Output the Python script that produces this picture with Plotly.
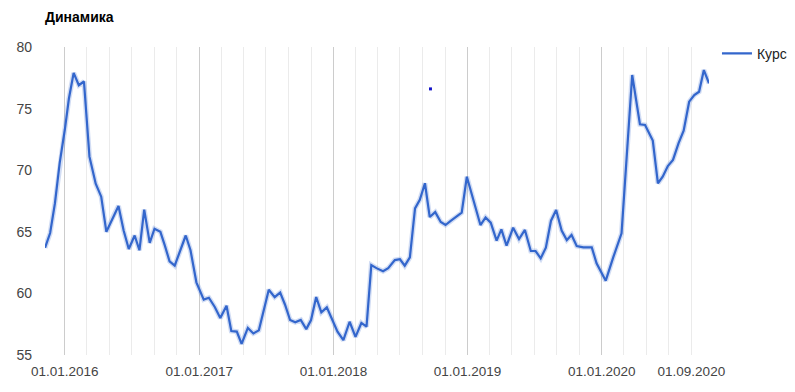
import plotly.graph_objects as go

dates = [
    "2015-11-08", "2015-11-22", "2015-12-05", "2015-12-18", "2016-01-01", "2016-01-12",
    "2016-01-25", "2016-02-08", "2016-02-22", "2016-03-08", "2016-03-25", "2016-04-09",
    "2016-04-23", "2016-05-11", "2016-05-26", "2016-06-09", "2016-06-23", "2016-07-09",
    "2016-07-22", "2016-08-04", "2016-08-19", "2016-09-01", "2016-09-17", "2016-09-29",
    "2016-10-12", "2016-10-26", "2016-11-10", "2016-11-25", "2016-12-08", "2016-12-24",
    "2017-01-13", "2017-01-27", "2017-02-12", "2017-02-27", "2017-03-16", "2017-03-29",
    "2017-04-13", "2017-04-26", "2017-05-13", "2017-05-28", "2017-06-12", "2017-07-09",
    "2017-07-25", "2017-08-09", "2017-08-22", "2017-09-05", "2017-09-19", "2017-10-04",
    "2017-10-19", "2017-11-01", "2017-11-15", "2017-11-29", "2017-12-14", "2017-12-29",
    "2018-01-12", "2018-01-28", "2018-02-14", "2018-03-02", "2018-03-18", "2018-04-01",
    "2018-04-14", "2018-04-28", "2018-05-16", "2018-05-30", "2018-06-17", "2018-07-01",
    "2018-07-14", "2018-07-28", "2018-08-11", "2018-08-24", "2018-09-07", "2018-09-20",
    "2018-10-05", "2018-10-20", "2018-11-02", "2018-11-16", "2018-12-02", "2018-12-16",
    "2018-12-30", "2019-01-25", "2019-02-05", "2019-02-19", "2019-03-05", "2019-03-21",
    "2019-04-03", "2019-04-17", "2019-05-05", "2019-05-21", "2019-06-06", "2019-06-22",
    "2019-07-05", "2019-07-19", "2019-08-02", "2019-08-16", "2019-08-30", "2019-09-14",
    "2019-09-28", "2019-10-11", "2019-10-25", "2019-11-12", "2019-12-05", "2019-12-18",
    "2020-01-12", "2020-02-02", "2020-02-24", "2020-03-24", "2020-04-14", "2020-04-28",
    "2020-05-19", "2020-06-02", "2020-06-15", "2020-06-29", "2020-07-13", "2020-07-28",
    "2020-08-11", "2020-08-26", "2020-09-09", "2020-09-22", "2020-10-05", "2020-10-19",
]
rate = [
    63.7, 64.9, 67.3, 70.6, 73.3, 75.8,
    77.9, 76.9, 77.2, 71.1, 68.9, 67.85,
    65.0, 66.2, 67.1, 65.1, 63.6, 64.7,
    63.5, 66.8, 64.1, 65.25, 65.0, 63.9,
    62.6, 62.25, 63.4, 64.7, 63.5, 60.9,
    59.5, 59.65, 58.9, 58.0, 59.0, 56.95,
    56.9, 55.9, 57.2, 56.75, 57.0, 60.3,
    59.7, 60.07, 59.1, 57.84, 57.65, 57.84,
    57.1, 57.84, 59.7, 58.47, 58.87, 57.8,
    56.9, 56.2, 57.7, 56.47, 57.6, 57.3,
    62.3, 62.05, 61.8, 62.04, 62.7, 62.77,
    62.25, 62.93, 66.9, 67.6, 68.94, 66.2,
    66.6, 65.8, 65.55, 65.88, 66.2, 66.55,
    69.47, 66.55, 65.55, 66.17, 65.74, 64.28,
    65.2, 63.87, 65.33, 64.41, 65.15, 63.44,
    63.44, 62.85, 63.71, 65.9, 66.77, 65.1,
    64.33, 64.74, 63.85, 63.74, 63.74, 62.44,
    61.03, 62.98, 64.88, 77.73, 73.73, 73.67,
    72.4, 68.94, 69.47, 70.34, 70.83, 72.18,
    73.2, 75.56, 76.1, 76.37, 78.13, 77.05,
]

stray_date = ["2018-09-22"]
stray_value = [76.6]

tick_dates = ["2016-01-01", "2017-01-01", "2018-01-01", "2019-01-01", "2020-01-01", "2020-09-01"]
tick_labels = ["01.01.2016", "01.01.2017", "01.01.2018", "01.01.2019", "01.01.2020", "01.09.2020"]

title_text = "Динамика"
series_name = "Курс"

FONT = "Arial, 'Liberation Sans', sans-serif"
LINE = "#3366cc"

fig = go.Figure()
fig.add_trace(go.Scatter(
    x=dates, y=rate, mode="lines", showlegend=False, hoverinfo="skip",
    line=dict(color="rgba(51,102,204,0.22)", width=5),
))
fig.add_trace(go.Scatter(
    x=dates, y=rate, mode="lines", name=series_name,
    line=dict(color=LINE, width=2.2),
))
fig.add_trace(go.Scatter(
    x=stray_date, y=stray_value, mode="markers", showlegend=False, hoverinfo="skip",
    xaxis="x2", marker=dict(color="#1414c8", size=3, symbol="square"),
))

xr = [dates[0], dates[-1]]

fig.update_layout(
    width=795, height=392,
    margin=dict(l=45, r=86, t=47, b=37, autoexpand=False),
    paper_bgcolor="white", plot_bgcolor="white",
    font=dict(family=FONT, color="#444444"),
    title=dict(text="<b>" + title_text + "</b>", x=45 / 795, xanchor="left",
               y=1 - 17 / 392, yanchor="middle",
               font=dict(family=FONT, size=14, color="#000000")),
    xaxis=dict(
        type="date", range=xr, showline=False, zeroline=False,
        tickmode="linear", tick0="2016-01-01", dtick="M12",
        showgrid=True, gridcolor="#cccccc", gridwidth=1,
        showticklabels=False, ticks="",
        minor=dict(tickmode="linear", tick0="2016-01-01", dtick="M2",
                   showgrid=True, gridcolor="#ebebeb", gridwidth=1, ticks=""),
    ),
    xaxis2=dict(
        type="date", range=xr, overlaying="x", side="bottom", anchor="y",
        tickmode="array", tickvals=tick_dates, ticktext=tick_labels,
        showgrid=False, showline=False, zeroline=False, ticks="",
        tickfont=dict(family=FONT, size=13.5, color="#444444"),
        ticklabelstandoff=6,
    ),
    yaxis=dict(
        range=[55, 80], tickmode="linear", tick0=55, dtick=5,
        showgrid=False, zeroline=False, showline=False, ticks="",
        tickfont=dict(family=FONT, size=14, color="#444444"),
        ticklabelstandoff=12,
    ),
    legend=dict(x=1.012, xanchor="left", y=1.03, yanchor="top",
                font=dict(family=FONT, size=14, color="#222222"),
                bgcolor="rgba(0,0,0,0)"),
)

fig.write_html("out.html")
